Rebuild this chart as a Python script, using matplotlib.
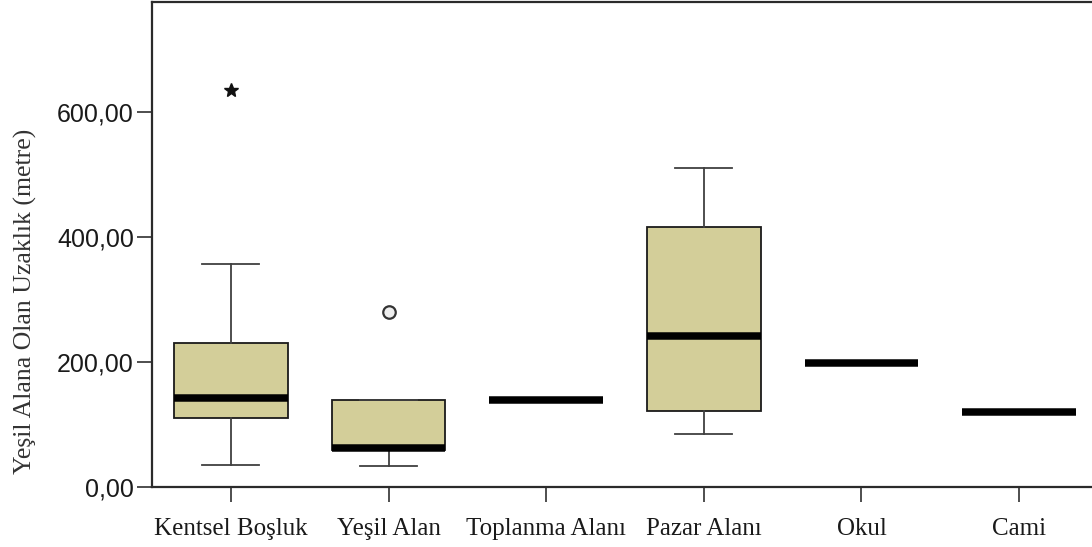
import numpy as np
import matplotlib.pyplot as plt

# kategoriler ve kutu grafiği istatistikleri (metre)
categories = ["Kentsel Boşluk", "Yeşil Alan", "Toplanma Alanı", "Pazar Alanı", "Okul", "Cami"]
whis_low = [36, 34, 139, 85, 199, 120]
q1 = [110, 59, 139, 122, 199, 120]
median = [142, 62, 139, 242, 199, 120]
q3 = [230, 139, 139, 417, 199, 120]
whis_high = [358, 139, 139, 511, 199, 120]
outliers = [[636], [280], [], [], [], []]
outlier_marker = ["*", "o", "o", "o", "o", "o"]

stats = []
for i, name in enumerate(categories):
    stats.append(dict(label=name, whislo=whis_low[i], q1=q1[i], med=median[i],
                      q3=q3[i], whishi=whis_high[i], fliers=outliers[i]))

fig = plt.figure(figsize=(10.92, 5.47), dpi=100)
ax = fig.add_axes([152 / 1092, 60 / 547, 946 / 1092, 485 / 547])

edge = "#2b2b2b"
bp = ax.bxp(stats, positions=np.arange(1, 7), widths=0.72, capwidths=0.36,
            patch_artist=True, showfliers=True,
            boxprops=dict(facecolor="#D3CE99", edgecolor="#1a1a1a", linewidth=1.3),
            medianprops=dict(color="black", linewidth=5.4, solid_capstyle="butt"),
            whiskerprops=dict(color="#404040", linewidth=1.3),
            capprops=dict(color="#404040", linewidth=1.3))

# aykırı değerler: yıldız (uç değer) ve daire
for fl, m in zip(bp["fliers"], outlier_marker):
    if m == "*":
        fl.set(marker="*", markersize=10, markerfacecolor="#111111",
               markeredgecolor="#111111")
    else:
        fl.set(marker="o", markersize=9, markerfacecolor="#eeeeee",
               markeredgecolor="#333333", markeredgewidth=1.6)

ax.set_xlim(0.5, 6.5)
ax.set_ylim(0, 777)
ax.set_yticks([0, 200, 400, 600])
ax.set_yticklabels(["0,00", "200,00", "400,00", "600,00"],
                   family="Liberation Sans", fontsize=18, color="#1a1a1a")
ax.set_xticks(np.arange(1, 7))
ax.set_xticklabels(categories, family="Liberation Serif", fontsize=18, color="#1a1a1a")
ax.tick_params(axis="both", direction="out", length=11, width=1.3, color="#404040")
ax.tick_params(axis="x", pad=11)
ax.tick_params(axis="y", pad=2)

ax.set_ylabel("Yeşil Alana Olan Uzaklık (metre)", family="Liberation Serif",
              fontsize=18.5, color="#333333")
ax.yaxis.set_label_coords(-0.122, 0.382)

for s in ax.spines.values():
    s.set_color(edge)
    s.set_linewidth(1.6)

fig.savefig("out.png", dpi=100)
